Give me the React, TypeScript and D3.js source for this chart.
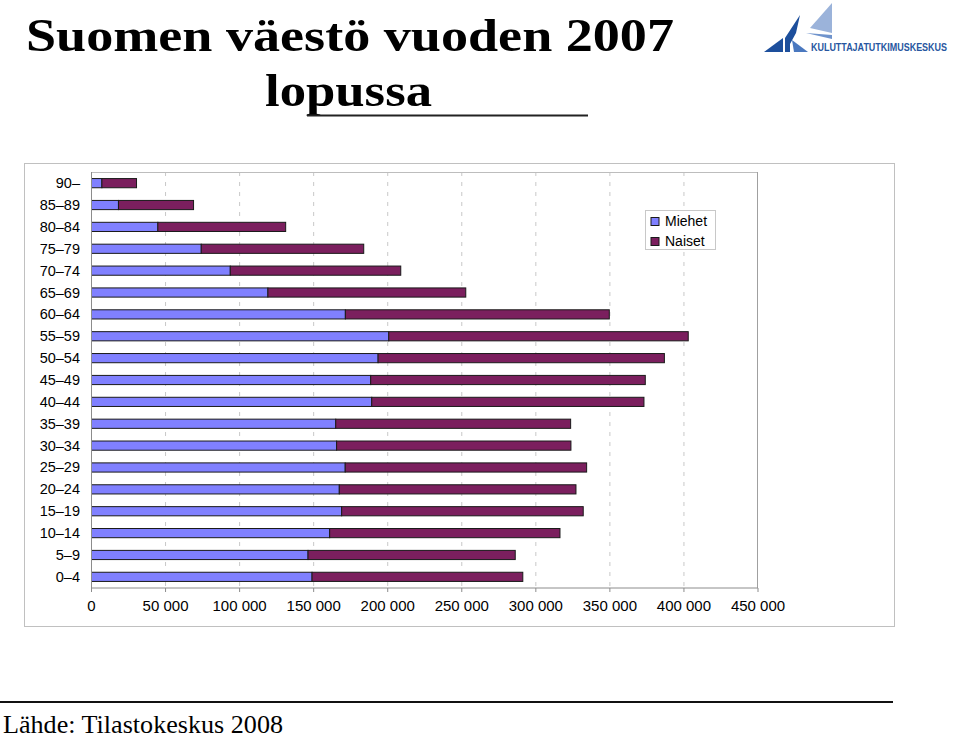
import React from "react";
import * as d3 from "d3";

const categories = ["0–4","5–9","10–14","15–19","20–24","25–29","30–34","35–39","40–44","45–49","50–54","55–59","60–64","65–69","70–74","75–79","80–84","85–89","90–"];
const miehet = [148900,146200,160800,168900,167300,171300,165500,164900,189200,188500,193500,200700,171400,119100,93700,74100,44800,18200,7000];
const naiset = [142300,139900,155500,163100,159800,163000,158200,158600,183800,185400,193300,202200,178200,133600,115100,109700,86300,50700,23400];
const xTicks = [0,50000,100000,150000,200000,250000,300000,350000,400000,450000];
const seriesNames = ["Miehet","Naiset"];
const colors = ["#8080ff","#7b1f5e"];

const fmt = (v: number) => (v === 0 ? "0" : d3.format(",")(v).replace(/,/g, " "));

export default function App() {
  const W = 960, H = 738;
  const px0 = 91.5, px1 = 758, py0 = 172, py1 = 588;
  const x = d3.scaleLinear().domain([0, 450000]).range([px0, px1]);
  const y = d3.scaleBand<string>().domain([...categories].reverse()).range([py0, py1]).paddingInner(0.58).paddingOuter(0.3);
  const sans = "'Liberation Sans', Arial, sans-serif";
  const serif = "'Liberation Serif', 'Times New Roman', serif";
  const bh = y.bandwidth();
  return (
    <svg width={W} height={H} style={{ position: "absolute", left: 0, top: 0, background: "#fff" }}>
      <rect x={0} y={0} width={W} height={H} fill="#fff" />
      {/* Title */}
      <text x={26} y={51} fontFamily={serif} fontWeight="bold" fontSize={46} textLength={648} lengthAdjust="spacingAndGlyphs" fill="#000">Suomen väestö vuoden 2007</text>
      <text x={265} y={106} fontFamily={serif} fontWeight="bold" fontSize={46} textLength={167} lengthAdjust="spacingAndGlyphs" fill="#000">lopussa</text>
      <line x1={307} x2={588} y1={115.5} y2={115.5} stroke="#222" strokeWidth={2} />
      {/* Logo */}
      <g>
        <polygon points="764,52 783,52 783,38" fill="#1d4f9c" />
        <polygon points="785,52 785,38 800,15 796,33 790,44 790,52" fill="#1d4f9c" />
        <polygon points="792,40 808,52 794,52" fill="#4a78bf" />
        <polygon points="810,28 832,3 832,33" fill="#9bb3da" />
        <polygon points="806,33 832,35 832,39" fill="#6f93cc" />
        <g transform="translate(811,51) scale(0.78,1)">
          <text x={0} y={0} fontFamily={sans} fontWeight="bold" fontSize={11.5} fill="#2756a0">KULUTTAJATUTKIMUSKESKUS</text>
        </g>
      </g>
      {/* Chart outer border */}
      <rect x={24.5} y={163.5} width={870} height={463} fill="#fff" stroke="#c0c0c0" strokeWidth={1} />
      {/* Gridlines */}
      {xTicks.slice(1, -1).map((t) => (
        <line key={"g" + t} x1={x(t)} x2={x(t)} y1={py0} y2={py1} stroke="#c8c8c8" strokeDasharray="4,6" />
      ))}
      {/* plot border */}
      <line x1={px0} x2={px1} y1={py0 + 0.5} y2={py0 + 0.5} stroke="#bdbdbd" />
      <line x1={px1 - 0.5} x2={px1 - 0.5} y1={py0} y2={py1} stroke="#a0a0a0" />
      {/* Bars */}
      {categories.map((c, i) => {
        const yy = (y(c) as number);
        const m = miehet[i], n = naiset[i];
        return (
          <g key={c}>
            <rect x={x(0)} y={yy} width={x(m) - x(0)} height={bh} fill={colors[0]} stroke="#1a1a1a" strokeWidth={1} />
            <rect x={x(m)} y={yy} width={x(m + n) - x(m)} height={bh} fill={colors[1]} stroke="#1a1a1a" strokeWidth={1} />
          </g>
        );
      })}
      {/* Axes */}
      <line x1={px0} x2={px0} y1={py0} y2={py1} stroke="#8c8c8c" />
      <line x1={px0} x2={px1} y1={py1} y2={py1} stroke="#8c8c8c" />
      {xTicks.map((t) => (
        <g key={"t" + t}>
          <line x1={x(t)} x2={x(t)} y1={py1} y2={py1 + 4} stroke="#8c8c8c" />
          <text x={x(t)} y={611} textAnchor="middle" fontFamily={sans} fontSize={15} fill="#000">{fmt(t)}</text>
        </g>
      ))}
      {categories.map((c) => (
        <text key={"l" + c} x={80} y={(y(c) as number) + bh / 2 + 5} textAnchor="end" fontFamily={sans} fontSize={14.5} fill="#000">{c}</text>
      ))}
      {/* Legend */}
      <rect x={645.5} y={210.5} width={70} height={39} fill="#fff" stroke="#c8c8c8" />
      {seriesNames.map((s, i) => (
        <g key={s}>
          <rect x={651} y={217.5 + i * 20} width={8} height={8} fill={colors[i]} stroke="#1a1a1a" />
          <text x={665} y={226 + i * 20} fontFamily={sans} fontSize={14} fill="#000">{s}</text>
        </g>
      ))}
      {/* Footer */}
      <line x1={0} x2={893} y1={702} y2={702} stroke="#111" strokeWidth={2} />
      <text x={3} y={733} fontFamily={serif} fontSize={26} textLength={280} lengthAdjust="spacingAndGlyphs" fill="#000">Lähde: Tilastokeskus 2008</text>
    </svg>
  );
}
